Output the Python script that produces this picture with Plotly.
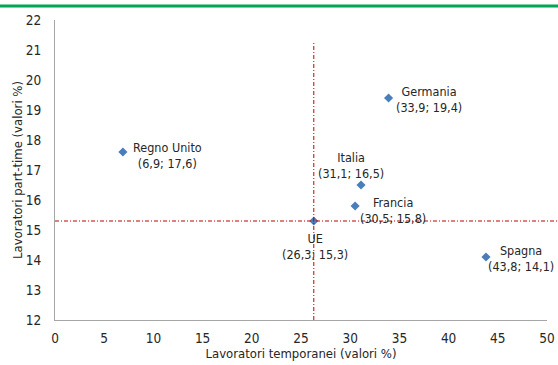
import plotly.graph_objects as go

countries = ["Regno Unito", "Germania", "Italia", "Francia", "UE", "Spagna"]
temp_values = [6.9, 33.9, 31.1, 30.5, 26.3, 43.8]
part_values = [17.6, 19.4, 16.5, 15.8, 15.3, 14.1]
x_ticks = [0, 5, 10, 15, 20, 25, 30, 35, 40, 45, 50]
y_ticks = [12, 13, 14, 15, 16, 17, 18, 19, 20, 21, 22]
eu_x = 26.3
eu_y = 15.3

FONT = "DejaVu Sans Condensed, Liberation Sans Narrow, sans-serif"
TXT = "#262626"

# label offsets in pixels (xshift, yshift)
offsets = {
    "Regno Unito": (45, -3),
    "Germania": (40, -1),
    "Italia": (-10, 20),
    "Francia": (38, -4),
    "UE": (1, -25),
    "Spagna": (35, -1),
}

def fmt(v):
    return f"{v:.1f}".replace(".", ",")

fig = go.Figure()
fig.add_trace(go.Scatter(
    x=temp_values, y=part_values, mode="markers",
    marker=dict(symbol="diamond", size=7, color="#4a7ebb"),
    hoverinfo="skip", showlegend=False,
))

for c, xv, yv in zip(countries, temp_values, part_values):
    dx, dy = offsets[c]
    fig.add_annotation(
        x=xv, y=yv, xref="x", yref="y",
        text=f"{c}<br>({fmt(xv)}; {fmt(yv)})",
        showarrow=False, xshift=dx, yshift=dy,
        xanchor="center", yanchor="middle", align="center",
        font=dict(family=FONT, size=12.5, color=TXT),
    )

red = "#c00000"
fig.add_shape(type="line", xref="x", yref="y", x0=eu_x, x1=eu_x, y0=12, y1=21.3,
              line=dict(color=red, width=1, dash="4px,2px,1px,2px"), layer="above")
fig.add_shape(type="line", xref="paper", yref="y", x0=0, x1=1.03, y0=eu_y, y1=eu_y,
              line=dict(color=red, width=1, dash="4px,2px,1px,2px"), layer="above")
fig.add_shape(type="line", xref="paper", yref="paper", x0=-0.12, x1=1.03,
              y0=1.0467, y1=1.0467, line=dict(color="#00a651", width=3))

fig.update_layout(
    width=558, height=365,
    margin=dict(l=55, r=11, t=20, b=45, autoexpand=False),
    paper_bgcolor="white", plot_bgcolor="white",
    font=dict(family=FONT, size=13, color=TXT),
    xaxis=dict(
        range=[0, 50], tickvals=x_ticks, ticktext=[str(t) for t in x_ticks],
        showgrid=False, zeroline=False, showline=True, linecolor="#a6a6a6", linewidth=1,
        ticks="", ticklabelstandoff=6, automargin=False,
        title=dict(text="Lavoratori temporanei (valori %)", standoff=2,
                   font=dict(family=FONT, size=13, color=TXT)),
        tickfont=dict(family=FONT, size=13.5, color=TXT),
    ),
    yaxis=dict(
        range=[12, 22], tickvals=y_ticks, ticktext=[str(t) for t in y_ticks],
        showgrid=False, zeroline=False, showline=True, linecolor="#a6a6a6", linewidth=1,
        ticks="", ticklabelstandoff=10, automargin=False,
        title=dict(text="Lavoratori part-time (valori %)", standoff=0,
                   font=dict(family=FONT, size=13, color=TXT)),
        tickfont=dict(family=FONT, size=13.5, color=TXT),
    ),
)

fig.write_html("out.html", config={"displayModeBar": False},
               post_script="document.body.style.margin='0';document.body.style.overflow='hidden';")
